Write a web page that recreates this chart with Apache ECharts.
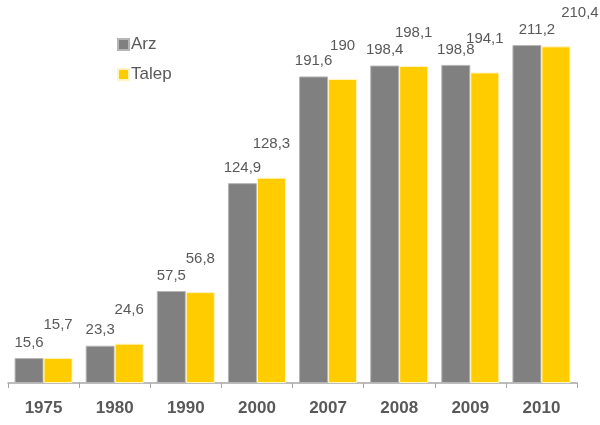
<!DOCTYPE html>
<html>
<head>
<meta charset="utf-8">
<script src="https://cdn.jsdelivr.net/npm/echarts@6/dist/echarts.min.js"></script>
<style>html,body{margin:0;padding:0;background:#fff}#c{width:600px;height:425px}</style>
</head>
<body>
<div id="c"></div>
<script>
var categories = ['1975','1980','1990','2000','2007','2008','2009','2010'];
var arz = [15.6, 23.3, 57.5, 124.9, 191.6, 198.4, 198.8, 211.2];
var talep = [15.7, 24.6, 56.8, 128.3, 190, 198.1, 194.1, 210.4];

function fmt(v){ return String(v).replace('.', ','); }
var font = 'Arial, "Liberation Sans", sans-serif';

function mkData(arr, lastOffset){
  return arr.map(function(v, i){
    var d = {value: v};
    if (i === arr.length - 1) d.label = {offset: lastOffset};
    return d;
  });
}

var chart = echarts.init(document.getElementById('c'));
chart.setOption({
  animation: false,
  grid: {left: 8, right: 23, top: 15, bottom: 42},
  legend: {
    orient: 'vertical', left: 112, top: 31, itemGap: 13,
    itemWidth: 11, itemHeight: 11, icon: 'rect',
    textStyle: {fontFamily: font, fontSize: 17, color: '#595959', padding: [0,0,0,-3]},
    data: ['Arz', 'Talep']
  },
  xAxis: {
    type: 'category', data: categories,
    axisLine: {lineStyle: {color: '#a6a6a6', width: 1.5}},
    axisTick: {show: true, length: 5, lineStyle: {color: '#a6a6a6'}},
    axisLabel: {fontFamily: font, fontSize: 17, fontWeight: 'bold', color: '#595959', margin: 17}
  },
  yAxis: {type: 'value', min: 0, max: 230, show: false, splitLine: {show: false}},
  series: [
    {
      name: 'Arz', type: 'bar', data: mkData(arz, [10, 0]),
      barWidth: 29, barGap: '0%',
      itemStyle: {color: '#808080', borderColor: '#b5b5b5', borderWidth: 1},
      label: {show: true, position: 'top', distance: 8, formatter: function(p){return fmt(p.value);},
        fontFamily: font, fontSize: 15, color: '#595959'}
    },
    {
      name: 'Talep', type: 'bar', data: mkData(talep, [24, 0]),
      barWidth: 29,
      itemStyle: {color: '#FFCC00', borderColor: '#fff4c0', borderWidth: 1},
      label: {show: true, position: 'top', distance: 26, formatter: function(p){return fmt(p.value);},
        fontFamily: font, fontSize: 15, color: '#595959'}
    }
  ]
});
</script>
</body>
</html>
